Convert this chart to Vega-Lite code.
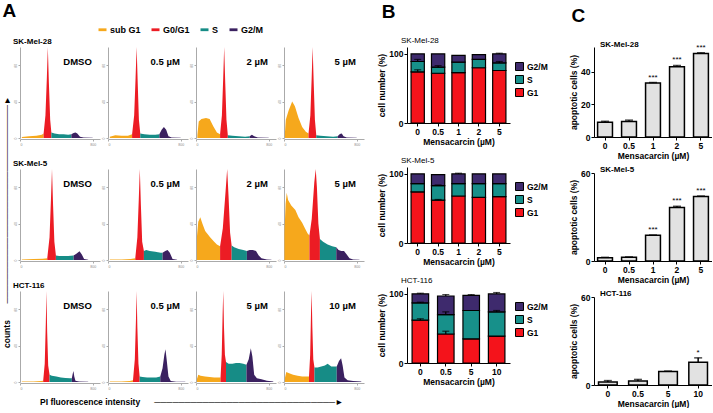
{
"$schema":"https://vega.github.io/schema/vega-lite/v6.json",
"background":"white",
"padding":{"left":2,"top":2,"right":0,"bottom":0},
"config":{"font":"Liberation Sans","view":{"stroke":null},
"axis":{"grid":false,"domainColor":"#000","tickColor":"#000","labelColor":"#000","titleColor":"#000","labelFontSize":8.5,"labelFontWeight":"bold","titleFontSize":8.5,"titleFontWeight":"bold","tickSize":3,"labelPadding":1,"titlePadding":2},
"title":{"fontSize":19,"fontWeight":"bold","anchor":"start","color":"#000"}},
"datasets":{
"h":[
{"c":"SK-Mel-28","i":1,"k":"DMSO","p":"sub G1","x":20,"y":1},{"c":"SK-Mel-28","i":1,"k":"DMSO","p":"sub G1","x":100,"y":2},{"c":"SK-Mel-28","i":1,"k":"DMSO","p":"sub G1","x":180,"y":2.5},{"c":"SK-Mel-28","i":1,"k":"DMSO","p":"sub G1","x":240,"y":3.5},{"c":"SK-Mel-28","i":1,"k":"DMSO","p":"sub G1","x":260,"y":5},
{"c":"SK-Mel-28","i":1,"k":"DMSO","p":"G0/G1","x":260,"y":5},{"c":"SK-Mel-28","i":1,"k":"DMSO","p":"G0/G1","x":280,"y":25},{"c":"SK-Mel-28","i":1,"k":"DMSO","p":"G0/G1","x":295,"y":65},{"c":"SK-Mel-28","i":1,"k":"DMSO","p":"G0/G1","x":306,"y":100},{"c":"SK-Mel-28","i":1,"k":"DMSO","p":"G0/G1","x":318,"y":60},{"c":"SK-Mel-28","i":1,"k":"DMSO","p":"G0/G1","x":332,"y":20},{"c":"SK-Mel-28","i":1,"k":"DMSO","p":"G0/G1","x":345,"y":6},
{"c":"SK-Mel-28","i":1,"k":"DMSO","p":"S","x":345,"y":6},{"c":"SK-Mel-28","i":1,"k":"DMSO","p":"S","x":380,"y":5},{"c":"SK-Mel-28","i":1,"k":"DMSO","p":"S","x":430,"y":4},{"c":"SK-Mel-28","i":1,"k":"DMSO","p":"S","x":480,"y":4},{"c":"SK-Mel-28","i":1,"k":"DMSO","p":"S","x":530,"y":3.5},{"c":"SK-Mel-28","i":1,"k":"DMSO","p":"S","x":565,"y":4},
{"c":"SK-Mel-28","i":1,"k":"DMSO","p":"G2/M","x":565,"y":4},{"c":"SK-Mel-28","i":1,"k":"DMSO","p":"G2/M","x":590,"y":5.5},{"c":"SK-Mel-28","i":1,"k":"DMSO","p":"G2/M","x":610,"y":6},{"c":"SK-Mel-28","i":1,"k":"DMSO","p":"G2/M","x":630,"y":5},{"c":"SK-Mel-28","i":1,"k":"DMSO","p":"G2/M","x":660,"y":1.5},{"c":"SK-Mel-28","i":1,"k":"DMSO","p":"G2/M","x":700,"y":0.5},{"c":"SK-Mel-28","i":1,"k":"DMSO","p":"G2/M","x":800,"y":0.3},

{"c":"SK-Mel-28","i":2,"k":"0.5 µM","p":"sub G1","x":20,"y":1.5},{"c":"SK-Mel-28","i":2,"k":"0.5 µM","p":"sub G1","x":80,"y":3},{"c":"SK-Mel-28","i":2,"k":"0.5 µM","p":"sub G1","x":150,"y":2.5},{"c":"SK-Mel-28","i":2,"k":"0.5 µM","p":"sub G1","x":220,"y":2.5},{"c":"SK-Mel-28","i":2,"k":"0.5 µM","p":"sub G1","x":265,"y":4},
{"c":"SK-Mel-28","i":2,"k":"0.5 µM","p":"G0/G1","x":265,"y":4},{"c":"SK-Mel-28","i":2,"k":"0.5 µM","p":"G0/G1","x":288,"y":25},{"c":"SK-Mel-28","i":2,"k":"0.5 µM","p":"G0/G1","x":303,"y":65},{"c":"SK-Mel-28","i":2,"k":"0.5 µM","p":"G0/G1","x":315,"y":100},{"c":"SK-Mel-28","i":2,"k":"0.5 µM","p":"G0/G1","x":327,"y":60},{"c":"SK-Mel-28","i":2,"k":"0.5 µM","p":"G0/G1","x":340,"y":20},{"c":"SK-Mel-28","i":2,"k":"0.5 µM","p":"G0/G1","x":355,"y":5},
{"c":"SK-Mel-28","i":2,"k":"0.5 µM","p":"S","x":355,"y":5},{"c":"SK-Mel-28","i":2,"k":"0.5 µM","p":"S","x":400,"y":4},{"c":"SK-Mel-28","i":2,"k":"0.5 µM","p":"S","x":460,"y":3.5},{"c":"SK-Mel-28","i":2,"k":"0.5 µM","p":"S","x":520,"y":3.5},{"c":"SK-Mel-28","i":2,"k":"0.5 µM","p":"S","x":565,"y":4},
{"c":"SK-Mel-28","i":2,"k":"0.5 µM","p":"G2/M","x":565,"y":4},{"c":"SK-Mel-28","i":2,"k":"0.5 µM","p":"G2/M","x":590,"y":9},{"c":"SK-Mel-28","i":2,"k":"0.5 µM","p":"G2/M","x":615,"y":12},{"c":"SK-Mel-28","i":2,"k":"0.5 µM","p":"G2/M","x":640,"y":9},{"c":"SK-Mel-28","i":2,"k":"0.5 µM","p":"G2/M","x":665,"y":2},{"c":"SK-Mel-28","i":2,"k":"0.5 µM","p":"G2/M","x":700,"y":0.5},{"c":"SK-Mel-28","i":2,"k":"0.5 µM","p":"G2/M","x":800,"y":0.3},

{"c":"SK-Mel-28","i":3,"k":"2 µM","p":"sub G1","x":15,"y":3},{"c":"SK-Mel-28","i":3,"k":"2 µM","p":"sub G1","x":30,"y":18},{"c":"SK-Mel-28","i":3,"k":"2 µM","p":"sub G1","x":60,"y":21},{"c":"SK-Mel-28","i":3,"k":"2 µM","p":"sub G1","x":110,"y":22},{"c":"SK-Mel-28","i":3,"k":"2 µM","p":"sub G1","x":150,"y":21},{"c":"SK-Mel-28","i":3,"k":"2 µM","p":"sub G1","x":190,"y":13},{"c":"SK-Mel-28","i":3,"k":"2 µM","p":"sub G1","x":230,"y":6},{"c":"SK-Mel-28","i":3,"k":"2 µM","p":"sub G1","x":265,"y":4},
{"c":"SK-Mel-28","i":3,"k":"2 µM","p":"G0/G1","x":265,"y":4},{"c":"SK-Mel-28","i":3,"k":"2 µM","p":"G0/G1","x":285,"y":25},{"c":"SK-Mel-28","i":3,"k":"2 µM","p":"G0/G1","x":299,"y":65},{"c":"SK-Mel-28","i":3,"k":"2 µM","p":"G0/G1","x":310,"y":100},{"c":"SK-Mel-28","i":3,"k":"2 µM","p":"G0/G1","x":322,"y":60},{"c":"SK-Mel-28","i":3,"k":"2 µM","p":"G0/G1","x":335,"y":20},{"c":"SK-Mel-28","i":3,"k":"2 µM","p":"G0/G1","x":350,"y":3},
{"c":"SK-Mel-28","i":3,"k":"2 µM","p":"S","x":350,"y":3},{"c":"SK-Mel-28","i":3,"k":"2 µM","p":"S","x":400,"y":2.5},{"c":"SK-Mel-28","i":3,"k":"2 µM","p":"S","x":470,"y":2},{"c":"SK-Mel-28","i":3,"k":"2 µM","p":"S","x":540,"y":1.5},{"c":"SK-Mel-28","i":3,"k":"2 µM","p":"S","x":590,"y":2},
{"c":"SK-Mel-28","i":3,"k":"2 µM","p":"G2/M","x":590,"y":2},{"c":"SK-Mel-28","i":3,"k":"2 µM","p":"G2/M","x":615,"y":3.5},{"c":"SK-Mel-28","i":3,"k":"2 µM","p":"G2/M","x":640,"y":2},{"c":"SK-Mel-28","i":3,"k":"2 µM","p":"G2/M","x":680,"y":0.5},{"c":"SK-Mel-28","i":3,"k":"2 µM","p":"G2/M","x":800,"y":0.3},

{"c":"SK-Mel-28","i":4,"k":"5 µM","p":"sub G1","x":10,"y":5},{"c":"SK-Mel-28","i":4,"k":"5 µM","p":"sub G1","x":20,"y":20},{"c":"SK-Mel-28","i":4,"k":"5 µM","p":"sub G1","x":50,"y":30},{"c":"SK-Mel-28","i":4,"k":"5 µM","p":"sub G1","x":90,"y":40},{"c":"SK-Mel-28","i":4,"k":"5 µM","p":"sub G1","x":120,"y":35},{"c":"SK-Mel-28","i":4,"k":"5 µM","p":"sub G1","x":160,"y":22},{"c":"SK-Mel-28","i":4,"k":"5 µM","p":"sub G1","x":200,"y":12},{"c":"SK-Mel-28","i":4,"k":"5 µM","p":"sub G1","x":240,"y":7},{"c":"SK-Mel-28","i":4,"k":"5 µM","p":"sub G1","x":270,"y":5},
{"c":"SK-Mel-28","i":4,"k":"5 µM","p":"G0/G1","x":270,"y":5},{"c":"SK-Mel-28","i":4,"k":"5 µM","p":"G0/G1","x":290,"y":25},{"c":"SK-Mel-28","i":4,"k":"5 µM","p":"G0/G1","x":304,"y":65},{"c":"SK-Mel-28","i":4,"k":"5 µM","p":"G0/G1","x":315,"y":100},{"c":"SK-Mel-28","i":4,"k":"5 µM","p":"G0/G1","x":327,"y":60},{"c":"SK-Mel-28","i":4,"k":"5 µM","p":"G0/G1","x":340,"y":20},{"c":"SK-Mel-28","i":4,"k":"5 µM","p":"G0/G1","x":355,"y":3},
{"c":"SK-Mel-28","i":4,"k":"5 µM","p":"S","x":355,"y":3},{"c":"SK-Mel-28","i":4,"k":"5 µM","p":"S","x":400,"y":2.5},{"c":"SK-Mel-28","i":4,"k":"5 µM","p":"S","x":470,"y":2},{"c":"SK-Mel-28","i":4,"k":"5 µM","p":"S","x":540,"y":1.5},{"c":"SK-Mel-28","i":4,"k":"5 µM","p":"S","x":590,"y":2},
{"c":"SK-Mel-28","i":4,"k":"5 µM","p":"G2/M","x":590,"y":2},{"c":"SK-Mel-28","i":4,"k":"5 µM","p":"G2/M","x":615,"y":4.5},{"c":"SK-Mel-28","i":4,"k":"5 µM","p":"G2/M","x":635,"y":5},{"c":"SK-Mel-28","i":4,"k":"5 µM","p":"G2/M","x":655,"y":2},{"c":"SK-Mel-28","i":4,"k":"5 µM","p":"G2/M","x":690,"y":0.5},{"c":"SK-Mel-28","i":4,"k":"5 µM","p":"G2/M","x":800,"y":0.3},

{"c":"SK-Mel-5","i":1,"k":"DMSO","p":"sub G1","x":20,"y":0.5},{"c":"SK-Mel-5","i":1,"k":"DMSO","p":"sub G1","x":150,"y":1},{"c":"SK-Mel-5","i":1,"k":"DMSO","p":"sub G1","x":250,"y":1.5},{"c":"SK-Mel-5","i":1,"k":"DMSO","p":"sub G1","x":300,"y":2},
{"c":"SK-Mel-5","i":1,"k":"DMSO","p":"G0/G1","x":300,"y":2},{"c":"SK-Mel-5","i":1,"k":"DMSO","p":"G0/G1","x":325,"y":25},{"c":"SK-Mel-5","i":1,"k":"DMSO","p":"G0/G1","x":340,"y":65},{"c":"SK-Mel-5","i":1,"k":"DMSO","p":"G0/G1","x":352,"y":100},{"c":"SK-Mel-5","i":1,"k":"DMSO","p":"G0/G1","x":364,"y":60},{"c":"SK-Mel-5","i":1,"k":"DMSO","p":"G0/G1","x":378,"y":20},{"c":"SK-Mel-5","i":1,"k":"DMSO","p":"G0/G1","x":395,"y":5},
{"c":"SK-Mel-5","i":1,"k":"DMSO","p":"S","x":395,"y":5},{"c":"SK-Mel-5","i":1,"k":"DMSO","p":"S","x":430,"y":4.5},{"c":"SK-Mel-5","i":1,"k":"DMSO","p":"S","x":480,"y":4.5},{"c":"SK-Mel-5","i":1,"k":"DMSO","p":"S","x":530,"y":4.5},{"c":"SK-Mel-5","i":1,"k":"DMSO","p":"S","x":590,"y":5},
{"c":"SK-Mel-5","i":1,"k":"DMSO","p":"G2/M","x":590,"y":5},{"c":"SK-Mel-5","i":1,"k":"DMSO","p":"G2/M","x":620,"y":7},{"c":"SK-Mel-5","i":1,"k":"DMSO","p":"G2/M","x":655,"y":9.5},{"c":"SK-Mel-5","i":1,"k":"DMSO","p":"G2/M","x":680,"y":6},{"c":"SK-Mel-5","i":1,"k":"DMSO","p":"G2/M","x":705,"y":1},{"c":"SK-Mel-5","i":1,"k":"DMSO","p":"G2/M","x":750,"y":0.3},

{"c":"SK-Mel-5","i":2,"k":"0.5 µM","p":"sub G1","x":20,"y":0.5},{"c":"SK-Mel-5","i":2,"k":"0.5 µM","p":"sub G1","x":150,"y":0.5},{"c":"SK-Mel-5","i":2,"k":"0.5 µM","p":"sub G1","x":250,"y":1},{"c":"SK-Mel-5","i":2,"k":"0.5 µM","p":"sub G1","x":300,"y":2},
{"c":"SK-Mel-5","i":2,"k":"0.5 µM","p":"G0/G1","x":300,"y":2},{"c":"SK-Mel-5","i":2,"k":"0.5 µM","p":"G0/G1","x":323,"y":25},{"c":"SK-Mel-5","i":2,"k":"0.5 µM","p":"G0/G1","x":338,"y":65},{"c":"SK-Mel-5","i":2,"k":"0.5 µM","p":"G0/G1","x":350,"y":100},{"c":"SK-Mel-5","i":2,"k":"0.5 µM","p":"G0/G1","x":362,"y":60},{"c":"SK-Mel-5","i":2,"k":"0.5 µM","p":"G0/G1","x":376,"y":20},{"c":"SK-Mel-5","i":2,"k":"0.5 µM","p":"G0/G1","x":395,"y":10},
{"c":"SK-Mel-5","i":2,"k":"0.5 µM","p":"S","x":395,"y":10},{"c":"SK-Mel-5","i":2,"k":"0.5 µM","p":"S","x":420,"y":11},{"c":"SK-Mel-5","i":2,"k":"0.5 µM","p":"S","x":460,"y":10},{"c":"SK-Mel-5","i":2,"k":"0.5 µM","p":"S","x":520,"y":9},{"c":"SK-Mel-5","i":2,"k":"0.5 µM","p":"S","x":580,"y":8},{"c":"SK-Mel-5","i":2,"k":"0.5 µM","p":"S","x":600,"y":8},
{"c":"SK-Mel-5","i":2,"k":"0.5 µM","p":"G2/M","x":600,"y":8},{"c":"SK-Mel-5","i":2,"k":"0.5 µM","p":"G2/M","x":630,"y":10},{"c":"SK-Mel-5","i":2,"k":"0.5 µM","p":"G2/M","x":655,"y":11},{"c":"SK-Mel-5","i":2,"k":"0.5 µM","p":"G2/M","x":680,"y":8},{"c":"SK-Mel-5","i":2,"k":"0.5 µM","p":"G2/M","x":710,"y":1},{"c":"SK-Mel-5","i":2,"k":"0.5 µM","p":"G2/M","x":760,"y":0.3},

{"c":"SK-Mel-5","i":3,"k":"2 µM","p":"sub G1","x":10,"y":25},{"c":"SK-Mel-5","i":3,"k":"2 µM","p":"sub G1","x":25,"y":42},{"c":"SK-Mel-5","i":3,"k":"2 µM","p":"sub G1","x":47,"y":47},{"c":"SK-Mel-5","i":3,"k":"2 µM","p":"sub G1","x":70,"y":40},{"c":"SK-Mel-5","i":3,"k":"2 µM","p":"sub G1","x":101,"y":32},{"c":"SK-Mel-5","i":3,"k":"2 µM","p":"sub G1","x":155,"y":25},{"c":"SK-Mel-5","i":3,"k":"2 µM","p":"sub G1","x":200,"y":20},{"c":"SK-Mel-5","i":3,"k":"2 µM","p":"sub G1","x":230,"y":17},{"c":"SK-Mel-5","i":3,"k":"2 µM","p":"sub G1","x":265,"y":15},
{"c":"SK-Mel-5","i":3,"k":"2 µM","p":"G0/G1","x":265,"y":15},{"c":"SK-Mel-5","i":3,"k":"2 µM","p":"G0/G1","x":295,"y":35},{"c":"SK-Mel-5","i":3,"k":"2 µM","p":"G0/G1","x":325,"y":75},{"c":"SK-Mel-5","i":3,"k":"2 µM","p":"G0/G1","x":343,"y":100},{"c":"SK-Mel-5","i":3,"k":"2 µM","p":"G0/G1","x":358,"y":70},{"c":"SK-Mel-5","i":3,"k":"2 µM","p":"G0/G1","x":375,"y":30},{"c":"SK-Mel-5","i":3,"k":"2 µM","p":"G0/G1","x":392,"y":16},
{"c":"SK-Mel-5","i":3,"k":"2 µM","p":"S","x":392,"y":16},{"c":"SK-Mel-5","i":3,"k":"2 µM","p":"S","x":420,"y":14},{"c":"SK-Mel-5","i":3,"k":"2 µM","p":"S","x":470,"y":12},{"c":"SK-Mel-5","i":3,"k":"2 µM","p":"S","x":520,"y":11},{"c":"SK-Mel-5","i":3,"k":"2 µM","p":"S","x":560,"y":10},
{"c":"SK-Mel-5","i":3,"k":"2 µM","p":"G2/M","x":560,"y":10},{"c":"SK-Mel-5","i":3,"k":"2 µM","p":"G2/M","x":590,"y":11},{"c":"SK-Mel-5","i":3,"k":"2 µM","p":"G2/M","x":625,"y":11},{"c":"SK-Mel-5","i":3,"k":"2 µM","p":"G2/M","x":660,"y":10},{"c":"SK-Mel-5","i":3,"k":"2 µM","p":"G2/M","x":690,"y":5},{"c":"SK-Mel-5","i":3,"k":"2 µM","p":"G2/M","x":720,"y":2},{"c":"SK-Mel-5","i":3,"k":"2 µM","p":"G2/M","x":780,"y":0.5},{"c":"SK-Mel-5","i":3,"k":"2 µM","p":"G2/M","x":830,"y":0.2},

{"c":"SK-Mel-5","i":4,"k":"5 µM","p":"sub G1","x":5,"y":30},{"c":"SK-Mel-5","i":4,"k":"5 µM","p":"sub G1","x":18,"y":62},{"c":"SK-Mel-5","i":4,"k":"5 µM","p":"sub G1","x":30,"y":74},{"c":"SK-Mel-5","i":4,"k":"5 µM","p":"sub G1","x":45,"y":66},{"c":"SK-Mel-5","i":4,"k":"5 µM","p":"sub G1","x":80,"y":60},{"c":"SK-Mel-5","i":4,"k":"5 µM","p":"sub G1","x":125,"y":55},{"c":"SK-Mel-5","i":4,"k":"5 µM","p":"sub G1","x":160,"y":47},{"c":"SK-Mel-5","i":4,"k":"5 µM","p":"sub G1","x":200,"y":41},{"c":"SK-Mel-5","i":4,"k":"5 µM","p":"sub G1","x":230,"y":35},{"c":"SK-Mel-5","i":4,"k":"5 µM","p":"sub G1","x":260,"y":29},{"c":"SK-Mel-5","i":4,"k":"5 µM","p":"sub G1","x":280,"y":27},
{"c":"SK-Mel-5","i":4,"k":"5 µM","p":"G0/G1","x":280,"y":27},{"c":"SK-Mel-5","i":4,"k":"5 µM","p":"G0/G1","x":305,"y":45},{"c":"SK-Mel-5","i":4,"k":"5 µM","p":"G0/G1","x":333,"y":85},{"c":"SK-Mel-5","i":4,"k":"5 µM","p":"G0/G1","x":349,"y":100},{"c":"SK-Mel-5","i":4,"k":"5 µM","p":"G0/G1","x":362,"y":80},{"c":"SK-Mel-5","i":4,"k":"5 µM","p":"G0/G1","x":378,"y":40},{"c":"SK-Mel-5","i":4,"k":"5 µM","p":"G0/G1","x":395,"y":23},
{"c":"SK-Mel-5","i":4,"k":"5 µM","p":"S","x":395,"y":23},{"c":"SK-Mel-5","i":4,"k":"5 µM","p":"S","x":430,"y":20},{"c":"SK-Mel-5","i":4,"k":"5 µM","p":"S","x":480,"y":17},{"c":"SK-Mel-5","i":4,"k":"5 µM","p":"S","x":530,"y":15},{"c":"SK-Mel-5","i":4,"k":"5 µM","p":"S","x":575,"y":14},
{"c":"SK-Mel-5","i":4,"k":"5 µM","p":"G2/M","x":575,"y":14},{"c":"SK-Mel-5","i":4,"k":"5 µM","p":"G2/M","x":600,"y":11},{"c":"SK-Mel-5","i":4,"k":"5 µM","p":"G2/M","x":630,"y":10},{"c":"SK-Mel-5","i":4,"k":"5 µM","p":"G2/M","x":660,"y":10},{"c":"SK-Mel-5","i":4,"k":"5 µM","p":"G2/M","x":690,"y":6},{"c":"SK-Mel-5","i":4,"k":"5 µM","p":"G2/M","x":720,"y":2},{"c":"SK-Mel-5","i":4,"k":"5 µM","p":"G2/M","x":760,"y":0.5},{"c":"SK-Mel-5","i":4,"k":"5 µM","p":"G2/M","x":830,"y":0.2},

{"c":"HCT-116","i":1,"k":"DMSO","p":"sub G1","x":20,"y":0.5},{"c":"HCT-116","i":1,"k":"DMSO","p":"sub G1","x":150,"y":0.5},{"c":"HCT-116","i":1,"k":"DMSO","p":"sub G1","x":230,"y":1},{"c":"HCT-116","i":1,"k":"DMSO","p":"sub G1","x":255,"y":1.5},
{"c":"HCT-116","i":1,"k":"DMSO","p":"G0/G1","x":255,"y":1.5},{"c":"HCT-116","i":1,"k":"DMSO","p":"G0/G1","x":272,"y":20},{"c":"HCT-116","i":1,"k":"DMSO","p":"G0/G1","x":284,"y":65},{"c":"HCT-116","i":1,"k":"DMSO","p":"G0/G1","x":291,"y":100},{"c":"HCT-116","i":1,"k":"DMSO","p":"G0/G1","x":299,"y":55},{"c":"HCT-116","i":1,"k":"DMSO","p":"G0/G1","x":310,"y":18},{"c":"HCT-116","i":1,"k":"DMSO","p":"G0/G1","x":325,"y":8},
{"c":"HCT-116","i":1,"k":"DMSO","p":"S","x":325,"y":8},{"c":"HCT-116","i":1,"k":"DMSO","p":"S","x":350,"y":7},{"c":"HCT-116","i":1,"k":"DMSO","p":"S","x":400,"y":6},{"c":"HCT-116","i":1,"k":"DMSO","p":"S","x":450,"y":5},{"c":"HCT-116","i":1,"k":"DMSO","p":"S","x":500,"y":4.5},{"c":"HCT-116","i":1,"k":"DMSO","p":"S","x":550,"y":4},{"c":"HCT-116","i":1,"k":"DMSO","p":"S","x":570,"y":4},
{"c":"HCT-116","i":1,"k":"DMSO","p":"G2/M","x":570,"y":4},{"c":"HCT-116","i":1,"k":"DMSO","p":"G2/M","x":580,"y":9},{"c":"HCT-116","i":1,"k":"DMSO","p":"G2/M","x":588,"y":12},{"c":"HCT-116","i":1,"k":"DMSO","p":"G2/M","x":597,"y":6},{"c":"HCT-116","i":1,"k":"DMSO","p":"G2/M","x":610,"y":1.5},{"c":"HCT-116","i":1,"k":"DMSO","p":"G2/M","x":650,"y":0.5},{"c":"HCT-116","i":1,"k":"DMSO","p":"G2/M","x":750,"y":0.2},

{"c":"HCT-116","i":2,"k":"0.5 µM","p":"sub G1","x":20,"y":0.5},{"c":"HCT-116","i":2,"k":"0.5 µM","p":"sub G1","x":150,"y":0.5},{"c":"HCT-116","i":2,"k":"0.5 µM","p":"sub G1","x":240,"y":1},{"c":"HCT-116","i":2,"k":"0.5 µM","p":"sub G1","x":275,"y":2},
{"c":"HCT-116","i":2,"k":"0.5 µM","p":"G0/G1","x":275,"y":2},{"c":"HCT-116","i":2,"k":"0.5 µM","p":"G0/G1","x":295,"y":25},{"c":"HCT-116","i":2,"k":"0.5 µM","p":"G0/G1","x":308,"y":70},{"c":"HCT-116","i":2,"k":"0.5 µM","p":"G0/G1","x":315,"y":100},{"c":"HCT-116","i":2,"k":"0.5 µM","p":"G0/G1","x":323,"y":60},{"c":"HCT-116","i":2,"k":"0.5 µM","p":"G0/G1","x":335,"y":20},{"c":"HCT-116","i":2,"k":"0.5 µM","p":"G0/G1","x":348,"y":6},
{"c":"HCT-116","i":2,"k":"0.5 µM","p":"S","x":348,"y":6},{"c":"HCT-116","i":2,"k":"0.5 µM","p":"S","x":380,"y":5.5},{"c":"HCT-116","i":2,"k":"0.5 µM","p":"S","x":430,"y":5},{"c":"HCT-116","i":2,"k":"0.5 µM","p":"S","x":480,"y":5},{"c":"HCT-116","i":2,"k":"0.5 µM","p":"S","x":530,"y":5},{"c":"HCT-116","i":2,"k":"0.5 µM","p":"S","x":575,"y":6},
{"c":"HCT-116","i":2,"k":"0.5 µM","p":"G2/M","x":575,"y":6},{"c":"HCT-116","i":2,"k":"0.5 µM","p":"G2/M","x":600,"y":15},{"c":"HCT-116","i":2,"k":"0.5 µM","p":"G2/M","x":620,"y":30},{"c":"HCT-116","i":2,"k":"0.5 µM","p":"G2/M","x":632,"y":36},{"c":"HCT-116","i":2,"k":"0.5 µM","p":"G2/M","x":645,"y":25},{"c":"HCT-116","i":2,"k":"0.5 µM","p":"G2/M","x":665,"y":6},{"c":"HCT-116","i":2,"k":"0.5 µM","p":"G2/M","x":690,"y":1},{"c":"HCT-116","i":2,"k":"0.5 µM","p":"G2/M","x":750,"y":0.3},{"c":"HCT-116","i":2,"k":"0.5 µM","p":"G2/M","x":850,"y":0.2},

{"c":"HCT-116","i":3,"k":"5 µM","p":"sub G1","x":10,"y":3},{"c":"HCT-116","i":3,"k":"5 µM","p":"sub G1","x":25,"y":8},{"c":"HCT-116","i":3,"k":"5 µM","p":"sub G1","x":50,"y":7},{"c":"HCT-116","i":3,"k":"5 µM","p":"sub G1","x":100,"y":6},{"c":"HCT-116","i":3,"k":"5 µM","p":"sub G1","x":150,"y":5.5},{"c":"HCT-116","i":3,"k":"5 µM","p":"sub G1","x":200,"y":5},{"c":"HCT-116","i":3,"k":"5 µM","p":"sub G1","x":250,"y":5},{"c":"HCT-116","i":3,"k":"5 µM","p":"sub G1","x":270,"y":5},
{"c":"HCT-116","i":3,"k":"5 µM","p":"G0/G1","x":270,"y":5},{"c":"HCT-116","i":3,"k":"5 µM","p":"G0/G1","x":283,"y":30},{"c":"HCT-116","i":3,"k":"5 µM","p":"G0/G1","x":293,"y":75},{"c":"HCT-116","i":3,"k":"5 µM","p":"G0/G1","x":300,"y":100},{"c":"HCT-116","i":3,"k":"5 µM","p":"G0/G1","x":308,"y":60},{"c":"HCT-116","i":3,"k":"5 µM","p":"G0/G1","x":318,"y":30},{"c":"HCT-116","i":3,"k":"5 µM","p":"G0/G1","x":330,"y":22},
{"c":"HCT-116","i":3,"k":"5 µM","p":"S","x":330,"y":22},{"c":"HCT-116","i":3,"k":"5 µM","p":"S","x":360,"y":20},{"c":"HCT-116","i":3,"k":"5 µM","p":"S","x":400,"y":20},{"c":"HCT-116","i":3,"k":"5 µM","p":"S","x":440,"y":21},{"c":"HCT-116","i":3,"k":"5 µM","p":"S","x":480,"y":21},{"c":"HCT-116","i":3,"k":"5 µM","p":"S","x":520,"y":20},{"c":"HCT-116","i":3,"k":"5 µM","p":"S","x":555,"y":19},
{"c":"HCT-116","i":3,"k":"5 µM","p":"G2/M","x":555,"y":19},{"c":"HCT-116","i":3,"k":"5 µM","p":"G2/M","x":580,"y":25},{"c":"HCT-116","i":3,"k":"5 µM","p":"G2/M","x":603,"y":37},{"c":"HCT-116","i":3,"k":"5 µM","p":"G2/M","x":620,"y":28},{"c":"HCT-116","i":3,"k":"5 µM","p":"G2/M","x":640,"y":8},{"c":"HCT-116","i":3,"k":"5 µM","p":"G2/M","x":670,"y":4},{"c":"HCT-116","i":3,"k":"5 µM","p":"G2/M","x":720,"y":3},{"c":"HCT-116","i":3,"k":"5 µM","p":"G2/M","x":780,"y":1.5},{"c":"HCT-116","i":3,"k":"5 µM","p":"G2/M","x":850,"y":0.5},

{"c":"HCT-116","i":4,"k":"10 µM","p":"sub G1","x":10,"y":4},{"c":"HCT-116","i":4,"k":"10 µM","p":"sub G1","x":25,"y":11},{"c":"HCT-116","i":4,"k":"10 µM","p":"sub G1","x":50,"y":10},{"c":"HCT-116","i":4,"k":"10 µM","p":"sub G1","x":100,"y":8},{"c":"HCT-116","i":4,"k":"10 µM","p":"sub G1","x":150,"y":7},{"c":"HCT-116","i":4,"k":"10 µM","p":"sub G1","x":200,"y":6},{"c":"HCT-116","i":4,"k":"10 µM","p":"sub G1","x":250,"y":6},{"c":"HCT-116","i":4,"k":"10 µM","p":"sub G1","x":275,"y":6},
{"c":"HCT-116","i":4,"k":"10 µM","p":"G0/G1","x":275,"y":6},{"c":"HCT-116","i":4,"k":"10 µM","p":"G0/G1","x":288,"y":30},{"c":"HCT-116","i":4,"k":"10 µM","p":"G0/G1","x":297,"y":75},{"c":"HCT-116","i":4,"k":"10 µM","p":"G0/G1","x":304,"y":100},{"c":"HCT-116","i":4,"k":"10 µM","p":"G0/G1","x":312,"y":60},{"c":"HCT-116","i":4,"k":"10 µM","p":"G0/G1","x":322,"y":25},{"c":"HCT-116","i":4,"k":"10 µM","p":"G0/G1","x":335,"y":16},
{"c":"HCT-116","i":4,"k":"10 µM","p":"S","x":335,"y":16},{"c":"HCT-116","i":4,"k":"10 µM","p":"S","x":370,"y":16},{"c":"HCT-116","i":4,"k":"10 µM","p":"S","x":410,"y":17},{"c":"HCT-116","i":4,"k":"10 µM","p":"S","x":450,"y":18},{"c":"HCT-116","i":4,"k":"10 µM","p":"S","x":480,"y":20},{"c":"HCT-116","i":4,"k":"10 µM","p":"S","x":520,"y":17},{"c":"HCT-116","i":4,"k":"10 µM","p":"S","x":560,"y":17},{"c":"HCT-116","i":4,"k":"10 µM","p":"S","x":580,"y":17},
{"c":"HCT-116","i":4,"k":"10 µM","p":"G2/M","x":580,"y":17},{"c":"HCT-116","i":4,"k":"10 µM","p":"G2/M","x":605,"y":23},{"c":"HCT-116","i":4,"k":"10 µM","p":"G2/M","x":628,"y":26},{"c":"HCT-116","i":4,"k":"10 µM","p":"G2/M","x":645,"y":18},{"c":"HCT-116","i":4,"k":"10 µM","p":"G2/M","x":665,"y":5},{"c":"HCT-116","i":4,"k":"10 µM","p":"G2/M","x":700,"y":2},{"c":"HCT-116","i":4,"k":"10 µM","p":"G2/M","x":760,"y":1},{"c":"HCT-116","i":4,"k":"10 µM","p":"G2/M","x":850,"y":0.5}
],
"b":[
{"c":"SK-Mel-28","conc":"0","p":"G1","o":1,"v":74},{"c":"SK-Mel-28","conc":"0","p":"S","o":2,"v":15},{"c":"SK-Mel-28","conc":"0","p":"G2/M","o":3,"v":11},
{"c":"SK-Mel-28","conc":"0.5","p":"G1","o":1,"v":72},{"c":"SK-Mel-28","conc":"0.5","p":"S","o":2,"v":9},{"c":"SK-Mel-28","conc":"0.5","p":"G2/M","o":3,"v":19},
{"c":"SK-Mel-28","conc":"1","p":"G1","o":1,"v":73},{"c":"SK-Mel-28","conc":"1","p":"S","o":2,"v":15},{"c":"SK-Mel-28","conc":"1","p":"G2/M","o":3,"v":10},
{"c":"SK-Mel-28","conc":"2","p":"G1","o":1,"v":80},{"c":"SK-Mel-28","conc":"2","p":"S","o":2,"v":12},{"c":"SK-Mel-28","conc":"2","p":"G2/M","o":3,"v":7},
{"c":"SK-Mel-28","conc":"5","p":"G1","o":1,"v":76},{"c":"SK-Mel-28","conc":"5","p":"S","o":2,"v":11},{"c":"SK-Mel-28","conc":"5","p":"G2/M","o":3,"v":13},
{"c":"SK-Mel-5","conc":"0","p":"G1","o":1,"v":74},{"c":"SK-Mel-5","conc":"0","p":"S","o":2,"v":12},{"c":"SK-Mel-5","conc":"0","p":"G2/M","o":3,"v":14},
{"c":"SK-Mel-5","conc":"0.5","p":"G1","o":1,"v":62},{"c":"SK-Mel-5","conc":"0.5","p":"S","o":2,"v":21},{"c":"SK-Mel-5","conc":"0.5","p":"G2/M","o":3,"v":16},
{"c":"SK-Mel-5","conc":"1","p":"G1","o":1,"v":68},{"c":"SK-Mel-5","conc":"1","p":"S","o":2,"v":18},{"c":"SK-Mel-5","conc":"1","p":"G2/M","o":3,"v":14},
{"c":"SK-Mel-5","conc":"2","p":"G1","o":1,"v":66},{"c":"SK-Mel-5","conc":"2","p":"S","o":2,"v":20},{"c":"SK-Mel-5","conc":"2","p":"G2/M","o":3,"v":14},
{"c":"SK-Mel-5","conc":"5","p":"G1","o":1,"v":67},{"c":"SK-Mel-5","conc":"5","p":"S","o":2,"v":19},{"c":"SK-Mel-5","conc":"5","p":"G2/M","o":3,"v":14},
{"c":"HCT-116","conc":"0","p":"G1","o":1,"v":62},{"c":"HCT-116","conc":"0","p":"S","o":2,"v":25},{"c":"HCT-116","conc":"0","p":"G2/M","o":3,"v":13},
{"c":"HCT-116","conc":"0.5","p":"G1","o":1,"v":42},{"c":"HCT-116","conc":"0.5","p":"S","o":2,"v":28},{"c":"HCT-116","conc":"0.5","p":"G2/M","o":3,"v":27},
{"c":"HCT-116","conc":"5","p":"G1","o":1,"v":35},{"c":"HCT-116","conc":"5","p":"S","o":2,"v":41},{"c":"HCT-116","conc":"5","p":"G2/M","o":3,"v":22},
{"c":"HCT-116","conc":"10","p":"G1","o":1,"v":39},{"c":"HCT-116","conc":"10","p":"S","o":2,"v":35},{"c":"HCT-116","conc":"10","p":"G2/M","o":3,"v":26}
],
"be":[
{"c":"SK-Mel-28","conc":"0","lo":74,"hi":77},{"c":"SK-Mel-28","conc":"0","lo":89,"hi":92},{"c":"SK-Mel-28","conc":"0.5","lo":81,"hi":83},{"c":"SK-Mel-28","conc":"5","lo":87,"hi":89},{"c":"SK-Mel-28","conc":"5","lo":100,"hi":101},
{"c":"SK-Mel-5","conc":"0.5","lo":62,"hi":63},{"c":"SK-Mel-5","conc":"0.5","lo":83,"hi":84},{"c":"SK-Mel-5","conc":"1","lo":100,"hi":101},
{"c":"HCT-116","conc":"0","lo":62,"hi":64},{"c":"HCT-116","conc":"0","lo":87,"hi":88},{"c":"HCT-116","conc":"0","lo":100,"hi":101},{"c":"HCT-116","conc":"0.5","lo":42,"hi":46},{"c":"HCT-116","conc":"0.5","lo":70,"hi":74},{"c":"HCT-116","conc":"0.5","lo":97,"hi":99},{"c":"HCT-116","conc":"5","lo":98,"hi":99},{"c":"HCT-116","conc":"10","lo":74,"hi":76},{"c":"HCT-116","conc":"10","lo":100,"hi":102}
],
"a":[
{"c":"SK-Mel-28","conc":"0","v":9,"hi":9.6,"sig":""},{"c":"SK-Mel-28","conc":"0.5","v":9.5,"hi":10.3,"sig":""},{"c":"SK-Mel-28","conc":"1","v":33,"hi":33.3,"sig":"***"},{"c":"SK-Mel-28","conc":"2","v":43,"hi":43.7,"sig":"***"},{"c":"SK-Mel-28","conc":"5","v":51,"hi":51.5,"sig":"***"},
{"c":"SK-Mel-5","conc":"0","v":2.3,"hi":2.5,"sig":""},{"c":"SK-Mel-5","conc":"0.5","v":2.6,"hi":2.8,"sig":""},{"c":"SK-Mel-5","conc":"1","v":17.5,"hi":17.7,"sig":"***"},{"c":"SK-Mel-5","conc":"2","v":36.5,"hi":37.3,"sig":"***"},{"c":"SK-Mel-5","conc":"5","v":44,"hi":44.3,"sig":"***"},
{"c":"HCT-116","conc":"0","v":2,"hi":3,"sig":""},{"c":"HCT-116","conc":"0.5","v":2.7,"hi":3.8,"sig":""},{"c":"HCT-116","conc":"5","v":9.2,"hi":9.5,"sig":""},{"c":"HCT-116","conc":"10","v":15.5,"hi":18.5,"sig":"*"}
]
},
"spacing":13,
"resolve":{"scale":{"color":"independent"},"legend":{"color":"independent"}},
"hconcat":[
{"title":{"text":"A","offset":4},
 "vconcat":[
 {"title":{"text":"counts\u00a0\u00a0\u00a0\u00a0\u00a0\u00a0\u00a0─────────────────────────────────►","orient":"left","anchor":"start","fontSize":8.5,"fontWeight":"bold","offset":2,"dx":58},
  "vconcat":[
  {"title":{"text":"PI fluorescence intensity\u00a0\u00a0\u00a0\u00a0\u00a0\u00a0──────────────────────────────►","orient":"bottom","anchor":"start","fontSize":8.5,"fontWeight":"bold","offset":8,"dx":27},
   "spacing":14,
   "vconcat":[
   {"title":{"text":"SK-Mel-28","fontSize":8,"fontWeight":"bold","offset":1},
    "data":{"name":"h"},"transform":[{"filter":"datum.c == 'SK-Mel-28'"}],
    "facet":{"column":{"field":"i","type":"ordinal","header":null}},
    "spacing":1,
    "resolve":{"axis":{"y":"independent"}},
    "spec":{"width":80,"height":91,"layer":[
      {"mark":{"type":"area","interpolate":"linear"},
       "encoding":{
        "x":{"field":"x","type":"quantitative","scale":{"domain":[0,880],"nice":false},"axis":{"values":[0,200,400,600,800],"title":null,"labelFontSize":3.5,"labelFontWeight":"normal","labelColor":"#888","domainColor":"#aaa","tickColor":"#aaa","tickSize":2,"labelPadding":1}},
        "y":{"field":"y","type":"quantitative","stack":null,"scale":{"domain":[0,100],"nice":false},"axis":{"values":[0,10,20,30,40,50,60,70,80,90,100],"title":null,"labelFontSize":3.5,"labelFontWeight":"normal","labelColor":"#888","domainColor":"#aaa","tickColor":"#aaa","tickSize":2,"labelPadding":1,"labelAngle":-90,"labelAlign":"center","labelBaseline":"bottom"}},
        "color":{"field":"p","type":"nominal","scale":{"domain":["sub G1","G0/G1","S","G2/M"],"range":["#F6A81C","#EC1C24","#168C86","#3B2160"]},
          "legend":{"orient":"none","legendX":78,"legendY":-22,"direction":"horizontal","columns":4,"title":null,"labelFontSize":9,"labelFontWeight":"bold","labelColor":"#000","symbolType":"M-1,-0.35H1V0.35H-1Z","symbolSize":64,"symbolStrokeWidth":0,"columnPadding":10,"labelOffset":3}}}},
      {"transform":[{"filter":"datum.y == 100"}],
       "mark":{"type":"text","align":"right","baseline":"middle","fontSize":9.5,"fontWeight":"bold","color":"#000"},
       "encoding":{"x":{"datum":790},"y":{"datum":84},"text":{"field":"k"}}}]}},
   {"title":{"text":"SK-Mel-5","fontSize":8,"fontWeight":"bold","offset":1},
    "data":{"name":"h"},"transform":[{"filter":"datum.c == 'SK-Mel-5'"}],
    "facet":{"column":{"field":"i","type":"ordinal","header":null}},
    "spacing":1,
    "resolve":{"axis":{"y":"independent"}},
    "spec":{"width":80,"height":91,"layer":[
      {"mark":{"type":"area","interpolate":"linear"},
       "encoding":{
        "x":{"field":"x","type":"quantitative","scale":{"domain":[0,880],"nice":false},"axis":{"values":[0,200,400,600,800],"title":null,"labelFontSize":3.5,"labelFontWeight":"normal","labelColor":"#888","domainColor":"#aaa","tickColor":"#aaa","tickSize":2,"labelPadding":1}},
        "y":{"field":"y","type":"quantitative","stack":null,"scale":{"domain":[0,100],"nice":false},"axis":{"values":[0,10,20,30,40,50,60,70,80,90,100],"title":null,"labelFontSize":3.5,"labelFontWeight":"normal","labelColor":"#888","domainColor":"#aaa","tickColor":"#aaa","tickSize":2,"labelPadding":1,"labelAngle":-90,"labelAlign":"center","labelBaseline":"bottom"}},
        "color":{"field":"p","type":"nominal","scale":{"domain":["sub G1","G0/G1","S","G2/M"],"range":["#F6A81C","#EC1C24","#168C86","#3B2160"]},
          "legend":{"orient":"none","legendX":78,"legendY":-22,"direction":"horizontal","columns":4,"title":null,"labelFontSize":9,"labelFontWeight":"bold","labelColor":"#000","symbolType":"M-1,-0.35H1V0.35H-1Z","symbolSize":64,"symbolStrokeWidth":0,"columnPadding":10,"labelOffset":3}}}},
      {"transform":[{"filter":"datum.y == 100"}],
       "mark":{"type":"text","align":"right","baseline":"middle","fontSize":9.5,"fontWeight":"bold","color":"#000"},
       "encoding":{"x":{"datum":790},"y":{"datum":84},"text":{"field":"k"}}}]}},
   {"title":{"text":"HCT-116","fontSize":8,"fontWeight":"bold","offset":1},
    "data":{"name":"h"},"transform":[{"filter":"datum.c == 'HCT-116'"}],
    "facet":{"column":{"field":"i","type":"ordinal","header":null}},
    "spacing":1,
    "resolve":{"axis":{"y":"independent"}},
    "spec":{"width":80,"height":91,"layer":[
      {"mark":{"type":"area","interpolate":"linear"},
       "encoding":{
        "x":{"field":"x","type":"quantitative","scale":{"domain":[0,880],"nice":false},"axis":{"values":[0,200,400,600,800],"title":null,"labelFontSize":3.5,"labelFontWeight":"normal","labelColor":"#888","domainColor":"#aaa","tickColor":"#aaa","tickSize":2,"labelPadding":1}},
        "y":{"field":"y","type":"quantitative","stack":null,"scale":{"domain":[0,100],"nice":false},"axis":{"values":[0,10,20,30,40,50,60,70,80,90,100],"title":null,"labelFontSize":3.5,"labelFontWeight":"normal","labelColor":"#888","domainColor":"#aaa","tickColor":"#aaa","tickSize":2,"labelPadding":1,"labelAngle":-90,"labelAlign":"center","labelBaseline":"bottom"}},
        "color":{"field":"p","type":"nominal","scale":{"domain":["sub G1","G0/G1","S","G2/M"],"range":["#F6A81C","#EC1C24","#168C86","#3B2160"]},
          "legend":{"orient":"none","legendX":78,"legendY":-22,"direction":"horizontal","columns":4,"title":null,"labelFontSize":9,"labelFontWeight":"bold","labelColor":"#000","symbolType":"M-1,-0.35H1V0.35H-1Z","symbolSize":64,"symbolStrokeWidth":0,"columnPadding":10,"labelOffset":3}}}},
      {"transform":[{"filter":"datum.y == 100"}],
       "mark":{"type":"text","align":"right","baseline":"middle","fontSize":9.5,"fontWeight":"bold","color":"#000"},
       "encoding":{"x":{"datum":790},"y":{"datum":84},"text":{"field":"k"}}}]}}
   ]}
  ]}
 ]},
{"spacing":21,
 "hconcat":[
 {"title":{"text":"B","offset":15,"dx":4},
  "spacing":11,
  "resolve":{"scale":{"color":"independent"},"legend":{"color":"independent"}},
  "vconcat":[
  {"width":103,"height":76,"title":{"text":"SK-Mel-28","fontSize":8,"fontWeight":"normal","offset":2,"frame":"group","dx":-6},
   "layer":[
    {"data":{"name":"b"},"transform":[{"filter":"datum.c == 'SK-Mel-28'"}],
     "mark":{"type":"bar","stroke":"#000","strokeWidth":1.2},
     "encoding":{"x":{"field":"conc","type":"ordinal","sort":["0","0.5","1","2","5"],"title":"Mensacarcin (µM)","scale":{"paddingInner":0.35,"paddingOuter":0.2},"axis":{"labelAngle":0}},
      "y":{"field":"v","type":"quantitative","stack":"zero","scale":{"domain":[0,110],"nice":false},"axis":{"values":[0,20,40,60,80,100],"title":"cell number (%)"}},
      "color":{"field":"p","type":"nominal","scale":{"domain":["G2/M","S","G1"],"range":["#3E2A6D","#17908A","#F4131B"]},"legend":{"orient":"none","legendX":108,"legendY":15,"title":null,"labelFontSize":8.5,"labelFontWeight":"bold","labelColor":"#000","symbolType":"square","symbolSize":64,"symbolStrokeColor":"#000","symbolStrokeWidth":1,"rowPadding":0,"labelOffset":3}},
      "order":{"field":"o","type":"quantitative"}}},
    {"data":{"name":"be"},"transform":[{"filter":"datum.c == 'SK-Mel-28'"}],"mark":{"type":"rule","strokeWidth":1.2,"color":"#000"},
     "encoding":{"x":{"field":"conc","type":"ordinal","sort":["0","0.5","1","2","5"]},"y":{"field":"lo","type":"quantitative"},"y2":{"field":"hi"}}},
    {"data":{"name":"be"},"transform":[{"filter":"datum.c == 'SK-Mel-28'"}],"mark":{"type":"tick","thickness":1.2,"size":7,"color":"#000"},
     "encoding":{"x":{"field":"conc","type":"ordinal","sort":["0","0.5","1","2","5"]},"y":{"field":"hi","type":"quantitative"}}}
   ]},
  {"width":103,"height":76,"title":{"text":"SK-Mel-5","fontSize":8,"fontWeight":"normal","offset":2,"frame":"group","dx":-6},
   "layer":[
    {"data":{"name":"b"},"transform":[{"filter":"datum.c == 'SK-Mel-5'"}],
     "mark":{"type":"bar","stroke":"#000","strokeWidth":1.2},
     "encoding":{"x":{"field":"conc","type":"ordinal","sort":["0","0.5","1","2","5"],"title":"Mensacarcin (µM)","scale":{"paddingInner":0.35,"paddingOuter":0.2},"axis":{"labelAngle":0}},
      "y":{"field":"v","type":"quantitative","stack":"zero","scale":{"domain":[0,110],"nice":false},"axis":{"values":[0,20,40,60,80,100],"title":"cell number (%)"}},
      "color":{"field":"p","type":"nominal","scale":{"domain":["G2/M","S","G1"],"range":["#3E2A6D","#17908A","#F4131B"]},"legend":{"orient":"none","legendX":108,"legendY":15,"title":null,"labelFontSize":8.5,"labelFontWeight":"bold","labelColor":"#000","symbolType":"square","symbolSize":64,"symbolStrokeColor":"#000","symbolStrokeWidth":1,"rowPadding":0,"labelOffset":3}},
      "order":{"field":"o","type":"quantitative"}}},
    {"data":{"name":"be"},"transform":[{"filter":"datum.c == 'SK-Mel-5'"}],"mark":{"type":"rule","strokeWidth":1.2,"color":"#000"},
     "encoding":{"x":{"field":"conc","type":"ordinal","sort":["0","0.5","1","2","5"]},"y":{"field":"lo","type":"quantitative"},"y2":{"field":"hi"}}},
    {"data":{"name":"be"},"transform":[{"filter":"datum.c == 'SK-Mel-5'"}],"mark":{"type":"tick","thickness":1.2,"size":7,"color":"#000"},
     "encoding":{"x":{"field":"conc","type":"ordinal","sort":["0","0.5","1","2","5"]},"y":{"field":"hi","type":"quantitative"}}}
   ]},
  {"width":103,"height":76,"title":{"text":"HCT-116","fontSize":8,"fontWeight":"normal","offset":2,"frame":"group","dx":-6},
   "layer":[
    {"data":{"name":"b"},"transform":[{"filter":"datum.c == 'HCT-116'"}],
     "mark":{"type":"bar","stroke":"#000","strokeWidth":1.2},
     "encoding":{"x":{"field":"conc","type":"ordinal","sort":["0","0.5","5","10"],"title":"Mensacarcin (µM)","scale":{"paddingInner":0.35,"paddingOuter":0.2},"axis":{"labelAngle":0}},
      "y":{"field":"v","type":"quantitative","stack":"zero","scale":{"domain":[0,110],"nice":false},"axis":{"values":[0,20,40,60,80,100],"title":"cell number (%)"}},
      "color":{"field":"p","type":"nominal","scale":{"domain":["G2/M","S","G1"],"range":["#3E2A6D","#17908A","#F4131B"]},"legend":{"orient":"none","legendX":108,"legendY":15,"title":null,"labelFontSize":8.5,"labelFontWeight":"bold","labelColor":"#000","symbolType":"square","symbolSize":64,"symbolStrokeColor":"#000","symbolStrokeWidth":1,"rowPadding":0,"labelOffset":3}},
      "order":{"field":"o","type":"quantitative"}}},
    {"data":{"name":"be"},"transform":[{"filter":"datum.c == 'HCT-116'"}],"mark":{"type":"rule","strokeWidth":1.2,"color":"#000"},
     "encoding":{"x":{"field":"conc","type":"ordinal","sort":["0","0.5","5","10"]},"y":{"field":"lo","type":"quantitative"},"y2":{"field":"hi"}}},
    {"data":{"name":"be"},"transform":[{"filter":"datum.c == 'HCT-116'"}],"mark":{"type":"tick","thickness":1.2,"size":7,"color":"#000"},
     "encoding":{"x":{"field":"conc","type":"ordinal","sort":["0","0.5","5","10"]},"y":{"field":"hi","type":"quantitative"}}}
   ]}
  ]},
 {"title":{"text":"C","offset":15,"dx":2},
  "spacing":6,
  "vconcat":[
  {"width":118,"height":90,"title":{"text":"SK-Mel-28","fontSize":8,"fontWeight":"bold","offset":-5,"frame":"group","dx":6},
   "data":{"name":"a"},"transform":[{"filter":"datum.c == 'SK-Mel-28'"}],
   "encoding":{"x":{"field":"conc","type":"ordinal","sort":["0","0.5","1","2","5"],"title":"Mensacarcin (µM)","scale":{"paddingInner":0.38,"paddingOuter":0.15},"axis":{"labelAngle":0}}},
   "layer":[
    {"mark":{"type":"bar","fill":"#E2E2E2","stroke":"#000","strokeWidth":1.5},"encoding":{"y":{"field":"v","type":"quantitative","scale":{"domain":[0,55],"nice":false},"axis":{"values":[0,10,20,30,40,50],"title":"apoptotic cells (%)"}}}},
    {"mark":{"type":"rule","strokeWidth":1.5,"color":"#000"},"encoding":{"y":{"field":"v","type":"quantitative"},"y2":{"field":"hi"}}},
    {"mark":{"type":"tick","thickness":1.5,"size":8,"color":"#000"},"encoding":{"y":{"field":"hi","type":"quantitative"}}},
    {"mark":{"type":"text","baseline":"bottom","dy":-1,"fontSize":8,"color":"#000"},"encoding":{"y":{"field":"hi","type":"quantitative"},"text":{"field":"sig"}}}
   ]},
  {"width":118,"height":88,"title":{"text":"SK-Mel-5","fontSize":8,"fontWeight":"bold","offset":-5,"frame":"group","dx":6},
   "data":{"name":"a"},"transform":[{"filter":"datum.c == 'SK-Mel-5'"}],
   "encoding":{"x":{"field":"conc","type":"ordinal","sort":["0","0.5","1","2","5"],"title":"Mensacarcin (µM)","scale":{"paddingInner":0.38,"paddingOuter":0.15},"axis":{"labelAngle":0}}},
   "layer":[
    {"mark":{"type":"bar","fill":"#E2E2E2","stroke":"#000","strokeWidth":1.5},"encoding":{"y":{"field":"v","type":"quantitative","scale":{"domain":[0,60],"nice":false},"axis":{"values":[0,10,20,30,40,50,60],"title":"apoptotic cells (%)"}}}},
    {"mark":{"type":"rule","strokeWidth":1.5,"color":"#000"},"encoding":{"y":{"field":"v","type":"quantitative"},"y2":{"field":"hi"}}},
    {"mark":{"type":"tick","thickness":1.5,"size":8,"color":"#000"},"encoding":{"y":{"field":"hi","type":"quantitative"}}},
    {"mark":{"type":"text","baseline":"bottom","dy":-1,"fontSize":8,"color":"#000"},"encoding":{"y":{"field":"hi","type":"quantitative"},"text":{"field":"sig"}}}
   ]},
  {"width":118,"height":88,"title":{"text":"HCT-116","fontSize":8,"fontWeight":"bold","offset":-5,"frame":"group","dx":6},
   "data":{"name":"a"},"transform":[{"filter":"datum.c == 'HCT-116'"}],
   "encoding":{"x":{"field":"conc","type":"ordinal","sort":["0","0.5","5","10"],"title":"Mensacarcin (µM)","scale":{"paddingInner":0.38,"paddingOuter":0.15},"axis":{"labelAngle":0}}},
   "layer":[
    {"mark":{"type":"bar","fill":"#E2E2E2","stroke":"#000","strokeWidth":1.5},"encoding":{"y":{"field":"v","type":"quantitative","scale":{"domain":[0,60],"nice":false},"axis":{"values":[0,10,20,30,40,50,60],"title":"apoptotic cells (%)"}}}},
    {"mark":{"type":"rule","strokeWidth":1.5,"color":"#000"},"encoding":{"y":{"field":"v","type":"quantitative"},"y2":{"field":"hi"}}},
    {"mark":{"type":"tick","thickness":1.5,"size":8,"color":"#000"},"encoding":{"y":{"field":"hi","type":"quantitative"}}},
    {"mark":{"type":"text","baseline":"bottom","dy":-1,"fontSize":8,"color":"#000"},"encoding":{"y":{"field":"hi","type":"quantitative"},"text":{"field":"sig"}}}
   ]}
  ]}
 ]}
]
}
